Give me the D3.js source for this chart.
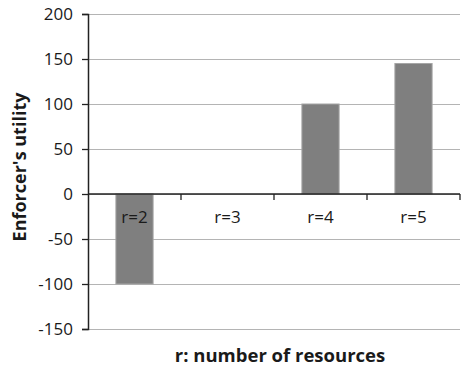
<!DOCTYPE html>
<html>
<head>
<meta charset="utf-8">
<script src="https://cdn.jsdelivr.net/npm/d3@7"></script>
<style>
  html, body { margin: 0; padding: 0; background: #fff; }
  svg { display: block; }
  text { font-family: "Open Sans", "DejaVu Sans", sans-serif; fill: #1a1a1a; }
</style>
</head>
<body>
<svg id="chart" width="462" height="367"></svg>
<script>
// Enforcer's utility for each number of resources
const categories = ["r=2", "r=3", "r=4", "r=5"];
const utility = [-100, 0, 100, 145];
const yTicks = [-150, -100, -50, 0, 50, 100, 150, 200];

const width = 462, height = 367;
const margin = { top: 14, right: 2, bottom: 38, left: 88 };

const svg = d3.select("#chart");

const x = d3.scaleBand()
  .domain(categories)
  .range([margin.left, width - margin.right])
  .paddingInner(0.6)
  .paddingOuter(0.3);

const y = d3.scaleLinear()
  .domain([-150, 200])
  .range([height - margin.bottom, margin.top]);

// horizontal gridlines
svg.append("g")
  .selectAll("line")
  .data(yTicks)
  .join("line")
  .attr("x1", margin.left)
  .attr("x2", width - margin.right)
  .attr("y1", d => Math.round(y(d)) + 0.5)
  .attr("y2", d => Math.round(y(d)) + 0.5)
  .attr("stroke", "#b4b4b4")
  .attr("stroke-width", 1);

// bars
svg.append("g")
  .selectAll("rect")
  .data(utility)
  .join("rect")
  .attr("x", (d, i) => x(categories[i]))
  .attr("width", x.bandwidth())
  .attr("y", d => y(Math.max(0, d)))
  .attr("height", d => Math.abs(y(d) - y(0)))
  .attr("fill", "#7f7f7f")
  .attr("stroke", "#a6a6a6")
  .attr("stroke-width", 1);

// y axis (plain hyphen for negative numbers)
const yAxis = svg.append("g")
  .attr("transform", `translate(${margin.left},0)`)
  .call(d3.axisLeft(y).tickValues(yTicks).tickFormat(d => String(d)).tickSize(6).tickPadding(9));
yAxis.select(".domain").attr("stroke", "#222").attr("stroke-width", 1.5);
yAxis.selectAll(".tick line").attr("stroke", "#222").attr("stroke-width", 1.3);
yAxis.selectAll(".tick text")
  .style("font-size", "17px")
  .style("font-family", "'Open Sans', sans-serif")
  .attr("fill", "#1a1a1a");

// x axis along zero line, boundaries between categories
const zeroY = y(0);
const bounds = d3.range(categories.length + 1).map(i => margin.left + i * (width - margin.right - margin.left) / categories.length);
svg.append("line")
  .attr("x1", margin.left).attr("x2", width - margin.right)
  .attr("y1", zeroY).attr("y2", zeroY)
  .attr("stroke", "#222").attr("stroke-width", 1.5);
svg.append("g")
  .selectAll("line")
  .data(bounds.slice(1))
  .join("line")
  .attr("x1", d => d).attr("x2", d => d)
  .attr("y1", zeroY).attr("y2", zeroY + 6)
  .attr("stroke", "#222").attr("stroke-width", 1.3);

// category labels just below the zero line
svg.append("g")
  .selectAll("text")
  .data(categories)
  .join("text")
  .attr("x", d => x(d) + x.bandwidth() / 2)
  .attr("y", zeroY + 29)
  .attr("text-anchor", "middle")
  .style("font-size", "17px")
  .text(d => d);

// axis titles
svg.append("text")
  .attr("x", 280)
  .attr("y", 362)
  .attr("text-anchor", "middle")
  .style("font-size", "18.5px")
  .style("font-weight", "bold")
  .text("r: number of resources");

svg.append("text")
  .attr("transform", "translate(26,167) rotate(-90)")
  .attr("text-anchor", "middle")
  .style("font-size", "18px")
  .style("font-weight", "bold")
  .text("Enforcer's utility");
</script>
</body>
</html>
